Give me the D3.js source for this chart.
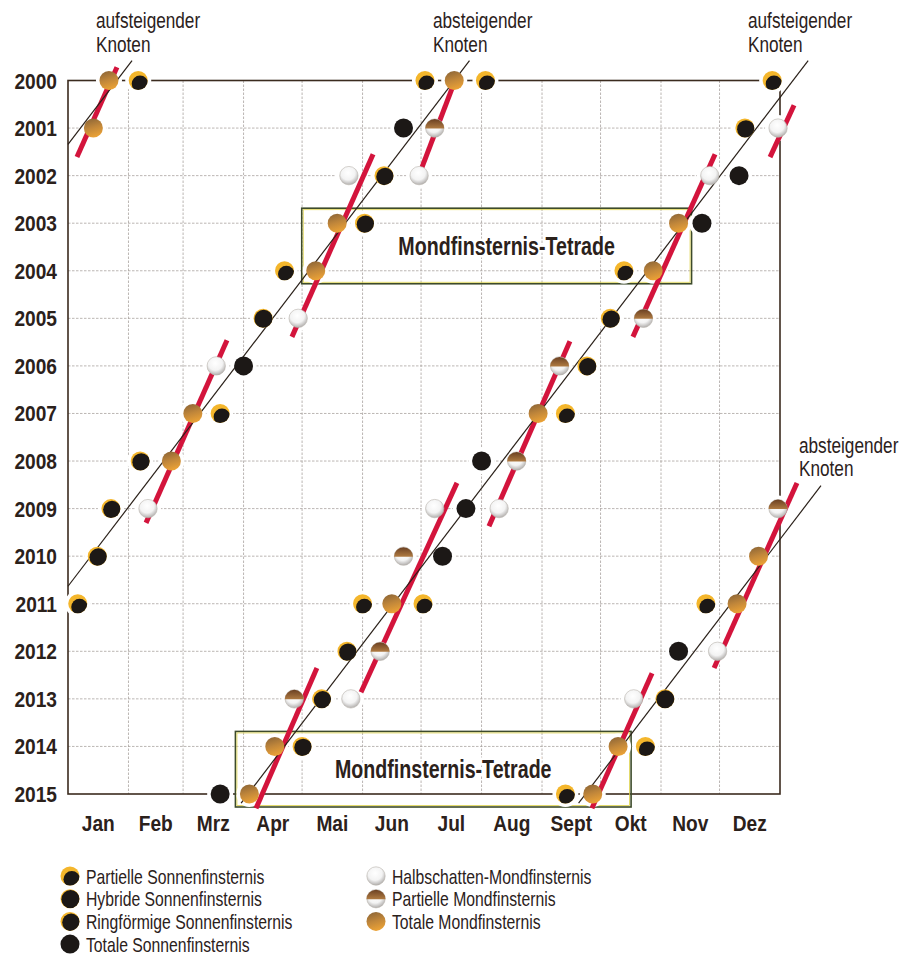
<!DOCTYPE html>
<html>
<head>
<meta charset="utf-8">
<script src="https://cdn.jsdelivr.net/npm/d3@7"></script>
<style>
  html, body { margin: 0; padding: 0; background: #fff; }
  svg { display: block; }
  text { font-family: "Liberation Sans", Arial, sans-serif; fill: #2b211b; }
</style>
</head>
<body>
<div id="chart"></div>
<script>

const years  = [2000, 2001, 2002, 2003, 2004, 2005, 2006, 2007, 2008, 2009, 2010, 2011, 2012, 2013, 2014, 2015];
const months = ['Jan', 'Feb', 'Mrz', 'Apr', 'Mai', 'Jun', 'Jul', 'Aug', 'Sept', 'Okt', 'Nov', 'Dez'];

const eclipseTypes = [
  { key: 'PS', label: 'Partielle Sonnenfinsternis' },
  { key: 'HS', label: 'Hybride Sonnenfinsternis' },
  { key: 'AS', label: 'Ringförmige Sonnenfinsternis' },
  { key: 'TS', label: 'Totale Sonnenfinsternis' },
  { key: 'NL', label: 'Halbschatten-Mondfinsternis' },
  { key: 'PL', label: 'Partielle Mondfinsternis' },
  { key: 'TL', label: 'Totale Mondfinsternis' }
];

// date as drawn, type
const eclipses = [
  ['2000-01-22', 'TL'], ['2000-02-06', 'PS'], ['2000-07-03', 'PS'], ['2000-07-18', 'TL'], ['2000-08-03', 'PS'], ['2000-12-28', 'PS'],
  ['2001-01-14', 'TL'], ['2001-06-22', 'TS'], ['2001-07-08', 'PL'], ['2001-12-14', 'AS'], ['2001-12-31', 'NL'],
  ['2002-05-25', 'NL'], ['2002-06-12', 'AS'], ['2002-06-30', 'NL'], ['2002-11-26', 'NL'], ['2002-12-11', 'TS'],
  ['2003-05-19', 'TL'], ['2003-06-02', 'AS'], ['2003-11-10', 'TL'], ['2003-11-22', 'TS'],
  ['2004-04-22', 'PS'], ['2004-05-08', 'TL'], ['2004-10-13', 'PS'], ['2004-10-28', 'TL'],
  ['2005-04-11', 'HS'], ['2005-04-29', 'NL'], ['2005-10-06', 'AS'], ['2005-10-23', 'PL'],
  ['2006-03-18', 'NL'], ['2006-04-01', 'TS'], ['2006-09-10', 'PL'], ['2006-09-24', 'AS'],
  ['2007-03-06', 'TL'], ['2007-03-20', 'PS'], ['2007-08-30', 'TL'], ['2007-09-13', 'PS'],
  ['2008-02-07', 'AS'], ['2008-02-23', 'TL'], ['2008-08-01', 'TS'], ['2008-08-19', 'PL'],
  ['2009-01-23', 'AS'], ['2009-02-11', 'NL'], ['2009-07-08', 'NL'], ['2009-07-24', 'TS'], ['2009-08-10', 'NL'], ['2009-12-31', 'PL'],
  ['2010-01-16', 'AS'], ['2010-06-22', 'PL'], ['2010-07-12', 'TS'], ['2010-12-21', 'TL'],
  ['2011-01-06', 'PS'], ['2011-06-01', 'PS'], ['2011-06-16', 'TL'], ['2011-07-02', 'PS'], ['2011-11-24', 'PS'], ['2011-12-10', 'TL'],
  ['2012-05-24', 'AS'], ['2012-06-10', 'PL'], ['2012-11-10', 'TS'], ['2012-11-30', 'NL'],
  ['2013-04-27', 'PL'], ['2013-05-11', 'AS'], ['2013-05-26', 'NL'], ['2013-10-18', 'NL'], ['2013-11-03', 'HS'],
  ['2014-04-17', 'TL'], ['2014-05-01', 'AS'], ['2014-10-10', 'TL'], ['2014-10-24', 'PS'],
  ['2015-03-20', 'TS'], ['2015-04-04', 'TL'], ['2015-09-13', 'PS'], ['2015-09-27', 'TL']
];

// red strokes through the lunar eclipses one lunar year apart: [year, day of year] ends
const lunarTracks = [
  [[1999.72, 25.1], [2001.61, 4.6]],
  [[1999.84, 199.9], [2001.82, 181.5]],
  [[2000.52, 372.2], [2001.61, 359.9]],
  [[2001.55, 156.4], [2005.39, 114.8]],
  [[2001.55, 331.7], [2005.39, 289.6]],
  [[2005.46, 81.5], [2009.30, 40.0]],
  [[2005.48, 257.3], [2009.37, 215.8]],
  [[2008.46, 199.4], [2012.86, 150.2]],
  [[2008.46, 373.7], [2012.35, 331.2]],
  [[2012.35, 127.6], [2015.30, 96.4]],
  [[2012.46, 299.4], [2015.30, 268.6]]
];

// lunar nodes: day of year of the passage in 2000
const nodes = [
  { name: 'aufsteigender Knoten', doy: 25 },
  { name: 'absteigender Knoten', doy: 198 }
];
const eclipseYear = 346.62;

const tetrads = [
  ['2003-05-19', '2003-11-10', '2004-05-08', '2004-10-28'],
  ['2014-04-17', '2014-10-10', '2015-04-04', '2015-09-27']
];

const width = 914, height = 957;
const plotLeft = 68, plotRight = 780, plotTop = 80.5, plotBottom = 794;
const gold = '#f4b62c', black = '#1c1816', frameColor = '#3b2b1f';
const R = 9.5;

const refStart  = new Date(2001, 0, 1);
const dayOfYear = (s) => d3.timeDay.count(refStart, new Date(2001, +s.slice(5, 7) - 1, +s.slice(8, 10)));
const yearOf    = (s) => +s.slice(0, 4);
// condensed type: squeeze the text horizontally
const place     = (px, py, sx) => `translate(${px},${py}) scale(${sx},1)`;

const x = d3.scaleLinear().domain([0, 365]).range([plotLeft, plotRight]);
const y = d3.scaleLinear().domain([2000, 2015]).range([plotTop, plotBottom]);

const svg = d3.select('#chart').append('svg')
  .attr('width', width)
  .attr('height', height);

svg.append('rect').attr('width', width).attr('height', height).attr('fill', '#fff');

// Gradients

const defs = svg.append('defs');

const tl = defs.append('linearGradient').attr('id', 'grad-tl')
  .attr('x1', 0.2).attr('y1', 0).attr('x2', 0.5).attr('y2', 1);
tl.append('stop').attr('offset', 0).attr('stop-color', '#8c6536');
tl.append('stop').attr('offset', 0.5).attr('stop-color', '#c0863a');
tl.append('stop').attr('offset', 1).attr('stop-color', '#eba236');

const nl = defs.append('radialGradient').attr('id', 'grad-nl')
  .attr('cx', 0.45).attr('cy', 0.35).attr('r', 0.7);
nl.append('stop').attr('offset', 0).attr('stop-color', '#ffffff');
nl.append('stop').attr('offset', 0.55).attr('stop-color', '#f3f3f3');
nl.append('stop').attr('offset', 1).attr('stop-color', '#a5a2a0');

const pl = defs.append('linearGradient').attr('id', 'grad-pl')
  .attr('x1', 0).attr('y1', 0).attr('x2', 0).attr('y2', 1);
pl.append('stop').attr('offset', 0).attr('stop-color', '#6a4022');
pl.append('stop').attr('offset', 1).attr('stop-color', '#b07b42');

defs.append('clipPath').attr('id', 'clip-dot')
  .append('circle').attr('r', R);

// Grid

const monthStarts = d3.timeMonths(refStart, new Date(2002, 0, 1)).map(d => d3.timeDay.count(refStart, d));
monthStarts.push(365);

const grid = svg.append('g')
  .attr('stroke', '#aaa3a0')
  .attr('stroke-width', 0.8)
  .attr('stroke-dasharray', '2.5,1.5');

years.slice(1, -1).forEach((yr) => {
  grid.append('line')
    .attr('x1', x(0)).attr('x2', x(365))
    .attr('y1', y(yr)).attr('y2', y(yr));
});

monthStarts.slice(1, -1).forEach((d) => {
  grid.append('line')
    .attr('x1', x(d)).attr('x2', x(d))
    .attr('y1', y(2000)).attr('y2', y(2015));
});

// Frame

svg.append('rect')
  .attr('x', x(0)).attr('y', y(2000))
  .attr('width', x(365) - x(0)).attr('height', y(2015) - y(2000))
  .attr('fill', 'none')
  .attr('stroke', frameColor)
  .attr('stroke-width', 1.6);

// Tetrade boxes

const boxes = svg.append('g');

tetrads.forEach((set) => {
  const ds = set.map(dayOfYear), ys = set.map(yearOf);
  const x0 = x(d3.min(ds)) - 14, x1 = x(d3.max(ds)) + 13,
        y0 = y(d3.min(ys)) - 15, y1 = y(d3.max(ys)) + 13;

  boxes.append('rect')
    .attr('x', x0).attr('y', y0).attr('width', x1 - x0).attr('height', y1 - y0)
    .attr('fill', 'none').attr('stroke', '#3d4b2b').attr('stroke-width', 1.6);
  boxes.append('rect')
    .attr('x', x0 + 1.5).attr('y', y0 + 1.5).attr('width', x1 - x0 - 3).attr('height', y1 - y0 - 3)
    .attr('fill', 'none').attr('stroke', '#ddd248').attr('stroke-width', 0.8);

  boxes.append('text')
    .attr('transform', place((x0 + x1) / 2 + 10, (y0 + y1) / 2 + 9, 0.785))
    .attr('text-anchor', 'middle')
    .attr('font-size', 25)
    .attr('font-weight', 'bold')
    .attr('stroke', '#fff').attr('stroke-width', 5).attr('paint-order', 'stroke')
    .text('Mondfinsternis-Tetrade');
});

// White halos behind the eclipse dots

svg.append('g').selectAll('circle')
  .data(eclipses)
  .join('circle')
  .attr('cx', d => x(dayOfYear(d[0])))
  .attr('cy', d => y(yearOf(d[0])))
  .attr('r', R + 3.5)
  .attr('fill', '#fff');

// Red lunar-year tracks

svg.append('g').selectAll('line')
  .data(lunarTracks)
  .join('line')
  .attr('x1', d => x(d[0][1])).attr('y1', d => y(d[0][0]))
  .attr('x2', d => x(d[1][1])).attr('y2', d => y(d[1][0]))
  .attr('stroke', '#d3143c')
  .attr('stroke-width', 5);

// Node lines

const drift = 365.2422 - eclipseYear;
const nodeLines = [];

nodes.forEach((n) => {
  [0, 1].forEach((k) => {
    const d0 = n.doy + k * eclipseYear;
    const y0 = Math.max(1999.58, 2000 + (d0 - 386) / drift),
          y1 = Math.min(2015.19, 2000 + d0 / drift);
    if (y1 > y0) {
      nodeLines.push([[y0, d0 - drift * (y0 - 2000)], [y1, d0 - drift * (y1 - 2000)]]);
    }
  });
});

svg.append('g').selectAll('line')
  .data(nodeLines)
  .join('line')
  .attr('x1', d => x(d[0][1])).attr('y1', d => y(d[0][0]))
  .attr('x2', d => x(d[1][1])).attr('y2', d => y(d[1][0]))
  .attr('stroke', '#2a2019')
  .attr('stroke-width', 1.2);

// Markers

function drawMarker(g, type) {

  if (type === 'TL') {
    g.append('circle').attr('r', R).attr('fill', 'url(#grad-tl)');
  } else if (type === 'NL' || type === 'PL') {
    g.append('circle').attr('r', R - 0.3).attr('fill', 'url(#grad-nl)')
      .attr('stroke', '#b9b3ad').attr('stroke-width', 0.6);
    if (type === 'PL') {
      g.append('path')
        .attr('d', `M${-R},0.5A${R},${R} 0 0 1 ${R},0.5Z`)
        .attr('fill', 'url(#grad-pl)');
    }
  } else if (type === 'TS') {
    g.append('circle').attr('r', R).attr('fill', black);
  } else {
    const off = { PS: [1.8, 3.3, 8.3], AS: [1.1, 1.1, R - 0.6], HS: [0.6, 0.6, R - 0.3] }[type];
    g.append('circle').attr('r', R).attr('fill', gold);
    g.append('circle')
      .attr('cx', off[0]).attr('cy', off[1]).attr('r', off[2])
      .attr('fill', black)
      .attr('clip-path', 'url(#clip-dot)');
  }

}

svg.append('g').selectAll('g')
  .data(eclipses)
  .join('g')
  .attr('transform', d => `translate(${x(dayOfYear(d[0]))},${y(yearOf(d[0]))})`)
  .each(function (d) { drawMarker(d3.select(this), d[1]); });

// Axis labels

svg.append('g').selectAll('text')
  .data(years)
  .join('text')
  .attr('transform', d => place(57, y(d) + 8, 0.87))
  .attr('text-anchor', 'end')
  .attr('font-size', 22)
  .attr('font-weight', 'bold')
  .text(d => d);

svg.append('g').selectAll('text')
  .data(months)
  .join('text')
  .attr('transform', (d, i) => place(x((monthStarts[i] + monthStarts[i + 1]) / 2), 831, 0.87))
  .attr('text-anchor', 'middle')
  .attr('font-size', 22)
  .attr('font-weight', 'bold')
  .text(d => d);

// Node labels

const nodeLabels = [
  { text: 'aufsteigender', x: 96, y: 28 },
  { text: 'Knoten', x: 96, y: 52 },
  { text: 'absteigender', x: 433, y: 28 },
  { text: 'Knoten', x: 433, y: 52 },
  { text: 'aufsteigender', x: 748, y: 28 },
  { text: 'Knoten', x: 748, y: 52 },
  { text: 'absteigender', x: 799, y: 453 },
  { text: 'Knoten', x: 799, y: 476 }
];

svg.append('g').selectAll('text')
  .data(nodeLabels)
  .join('text')
  .attr('transform', d => place(d.x, d.y, 0.8))
  .attr('font-size', 21.5)
  .attr('fill', '#3a2e27')
  .text(d => d.text);

// Legend

const legend = svg.append('g');

eclipseTypes.forEach((t, i) => {
  const col = i < 4 ? 0 : 1,
        row = i < 4 ? i : i - 4;
  const g = legend.append('g')
    .attr('transform', `translate(${col ? 376 : 70},${876 + row * 22.7})`);
  drawMarker(g, t.key);
  g.append('text')
    .attr('transform', place(16, 7.5, 0.75))
    .attr('font-size', 21)
    .text(t.label);
});

</script>
</body>
</html>
